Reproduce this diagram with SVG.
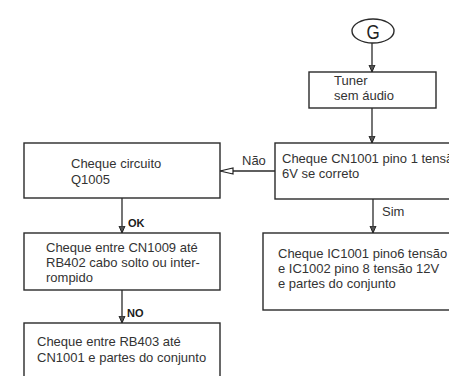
<svg xmlns="http://www.w3.org/2000/svg" width="449" height="376" viewBox="0 0 449 376">
  <defs>
    <style>
      .box { fill: #ffffff; stroke: #2a2a2a; stroke-width: 1.4; }
      .line { fill: none; stroke: #2a2a2a; stroke-width: 1.3; }
      .txt { font-family: "Liberation Sans", Arial, sans-serif; font-size: 13px; fill: #333333; }
      .tag { font-family: "Liberation Sans", Arial, sans-serif; font-size: 11px; font-weight: bold; fill: #1a1a1a; }
    </style>
    <marker id="arrow" markerWidth="8" markerHeight="12" refX="7" refY="6" orient="auto" markerUnits="userSpaceOnUse" viewBox="0 0 8 12">
      <path d="M0,3 L7,6 L0,9 Z" fill="#555555" stroke="#222222" stroke-width="1"/>
    </marker>
    <marker id="open" markerWidth="15" markerHeight="8" refX="14" refY="4" orient="auto" markerUnits="userSpaceOnUse" viewBox="0 0 15 8">
      <path d="M1,1 L14,4 L1,7 Z" fill="#ffffff" stroke="#222222" stroke-width="1.2"/>
    </marker>
  </defs>

  <rect width="449" height="376" fill="#ffffff"/>

  <!-- connectors -->
  <g id="connectors">
    <path class="line" d="M372,43 V72" marker-end="url(#arrow)"/>
    <path class="line" d="M372,108 V143" marker-end="url(#arrow)"/>
    <path class="line" d="M275,171 H220" marker-end="url(#open)"/>
    <path class="line" d="M373,199 V233" marker-end="url(#arrow)"/>
    <path class="line" d="M122,198 V233" marker-end="url(#arrow)"/>
    <path class="line" d="M122,290 V323" marker-end="url(#arrow)"/>
    <text class="txt" x="242" y="165">Não</text>
    <text class="txt" x="382" y="216">Sim</text>
    <text class="tag" x="128" y="227">OK</text>
    <text class="tag" x="127" y="317">NO</text>
  </g>

  <g id="start-g">
    <ellipse cx="373" cy="31" rx="21" ry="12" fill="#ffffff" stroke="#2a2a2a" stroke-width="1.4"/>
    <text x="373" y="39" text-anchor="middle" font-family="Liberation Sans, Arial, sans-serif" font-size="20" fill="#222222" transform="translate(373 0) scale(0.85 1) translate(-373 0)">G</text>
  </g>

  <g id="tuner">
    <rect class="box" x="309" y="72" width="127" height="36"/>
    <text class="txt" x="334" y="85">Tuner</text>
    <text class="txt" x="334" y="100">sem áudio</text>
  </g>

  <g id="check-cn1001">
    <rect class="box" x="275" y="143" width="190" height="56"/>
    <text class="txt" x="282" y="163">Cheque CN1001 pino 1 tensão</text>
    <text class="txt" x="282" y="178">6V se correto</text>
  </g>

  <g id="check-q1005">
    <rect class="box" x="24" y="143" width="196" height="55"/>
    <text class="txt" x="71" y="168">Cheque circuito</text>
    <text class="txt" x="71" y="184">Q1005</text>
  </g>

  <g id="check-ic1001">
    <rect class="box" x="263" y="233" width="200" height="77"/>
    <text class="txt" x="278" y="258">Cheque IC1001 pino6 tensão</text>
    <text class="txt" x="278" y="273">e IC1002 pino 8 tensão 12V</text>
    <text class="txt" x="278" y="288">e partes do conjunto</text>
  </g>

  <g id="check-cn1009">
    <rect class="box" x="24" y="233" width="196" height="57"/>
    <text class="txt" x="46" y="252">Cheque entre CN1009 até</text>
    <text class="txt" x="46" y="267">RB402 cabo solto ou inter-</text>
    <text class="txt" x="46" y="282">rompido</text>
  </g>

  <g id="check-rb403">
    <rect class="box" x="24" y="323" width="196" height="70"/>
    <text class="txt" x="37" y="346">Cheque entre RB403 até</text>
    <text class="txt" x="37" y="362">CN1001 e partes do conjunto</text>
  </g>
</svg>
